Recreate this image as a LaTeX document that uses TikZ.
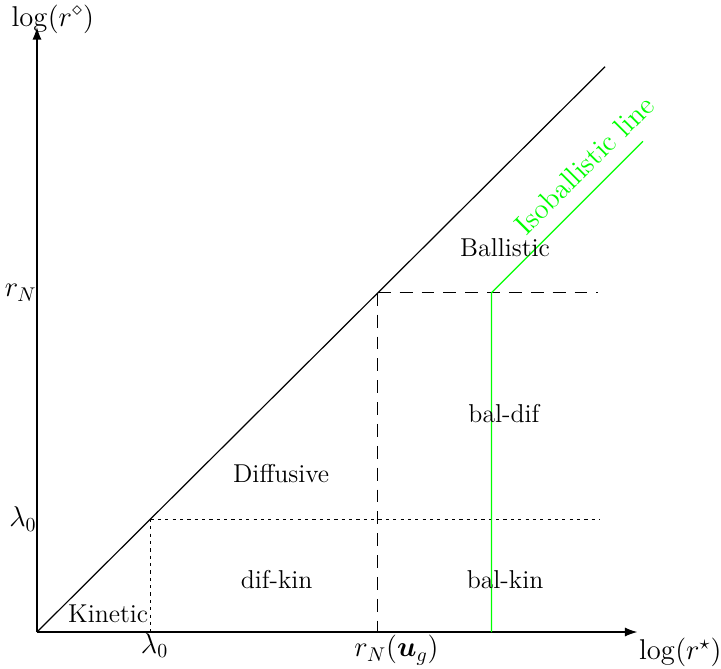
\documentclass[tikz,border=0pt]{standalone}
\usepackage{amsmath}
\usepackage{amssymb}
\usepackage{bm}
\usetikzlibrary{arrows.meta,positioning,calc}

\begin{document}
\begin{tikzpicture}[
  x=2cm, y=2cm,
  axis/.style={semithick, -{Latex[length=2.2mm,width=1.6mm]}},
  bound/.style={semithick, dash pattern=on 6.5pt off 4.5pt},
  tick/.style={line width=0.45pt, dash pattern=on 1.6pt off 2.1pt},
  isoline/.style={semithick, green},
  regime/.style={font=\fontsize{13}{15}\selectfont},
  axlabel/.style={font=\Large}
]
  \useasboundingbox (-0.327,-0.327) rectangle (6.05,5.59);

  % corner points
  \coordinate (O)  at (0,0);
  \coordinate (xe) at (5.31,0);
  \coordinate (ye) at (0,5.35);
  \coordinate (dl) at (1.005,1);
  \coordinate (dN) at (3.015,3);
  \coordinate (de) at (5.025,5);
  \coordinate (lb) at (1.005,0);
  \coordinate (Nb) at (3.015,0);
  \coordinate (le) at (4.98,1);
  \coordinate (Ne) at (4.96,3);
  \coordinate (gb) at (4.02,0);
  \coordinate (gk) at (4.02,3);
  \coordinate (ge) at (5.36,4.34);

  % axes
  \draw[axis] (O) -- (xe);
  \draw[axis] (O) -- (ye);
  \node[axlabel] (xl) at (5.69,-0.18) {$\log(r^{\star})$};
  \node[axlabel] (yl) at (0.14,5.42) {$\log(r^{\diamond})$};

  % diagonal
  \draw[semithick] (O) -- (de);

  % regime boundaries
  \draw[tick] (dl) -- (lb);
  \draw[tick] (dl) -- (le);
  \draw[bound] (dN) -- (Nb);
  \draw[bound] (dN) -- (Ne);

  % isoballistic line
  \draw[isoline] (gb) -- (gk) -- (ge);
  \node[rotate=45, text=green, font=\Large] (iso) at (4.84,4.13) {Isoballistic line};

  % tick labels
  \node[axlabel, anchor=east, inner sep=0pt] (lyl) at (O |- dl) {$\lambda_0$};
  \node[axlabel, anchor=east, inner sep=0pt] (Nyl) at (O |- dN) {$r_N$};
  \node[axlabel] (lxl) at (1.04,-0.12) {$\lambda_0$};
  \node[axlabel] (Nxl) at (3.18,-0.16) {$r_N(\bm{u}_g)$};

  % regimes
  \node[regime] (kin)  at (0.63,0.16) {Kinetic};
  \node[regime] (dk)   at (2.12,0.46) {dif-kin};
  \node[regime] (bk)   at (4.14,0.46) {bal-kin};
  \node[regime] (dif)  at (2.16,1.40) {Diffusive};
  \node[regime] (bd)   at (4.13,1.93) {bal-dif};
  \node[regime] (bal)  at (4.14,3.40) {Ballistic};
\end{tikzpicture}
\end{document}
